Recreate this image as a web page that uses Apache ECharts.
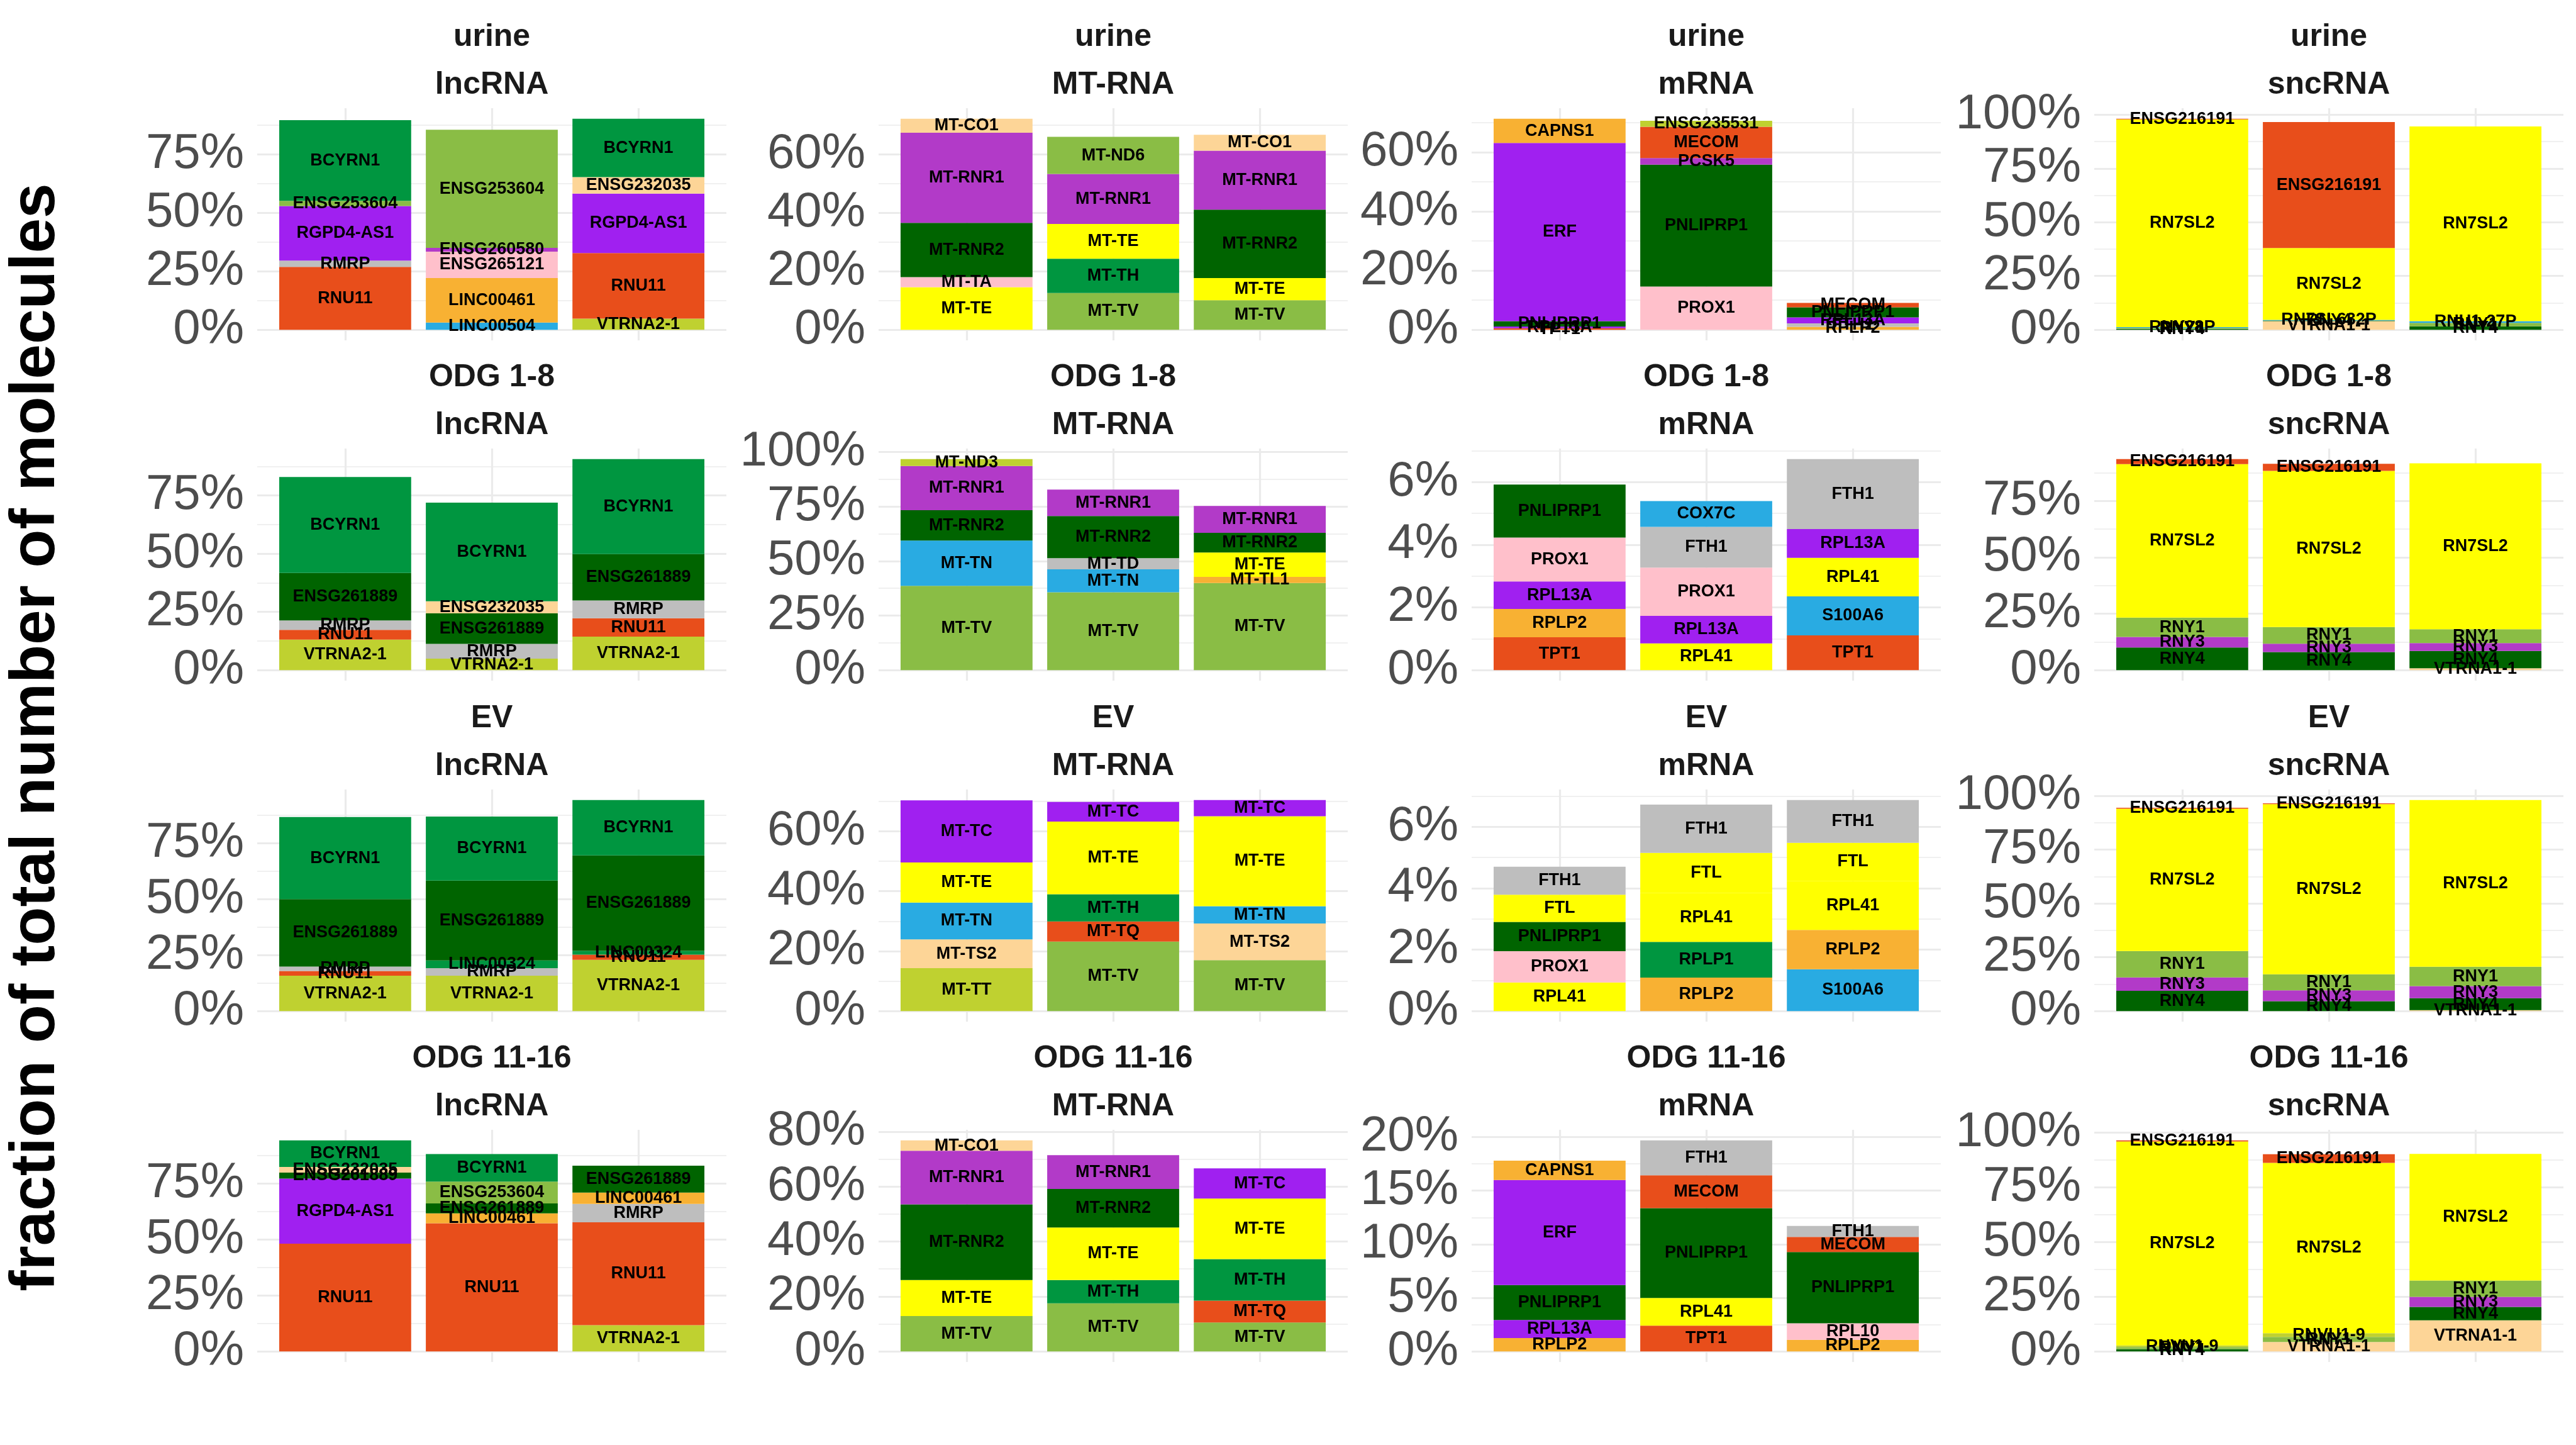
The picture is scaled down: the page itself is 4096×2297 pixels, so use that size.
<!DOCTYPE html>
<html><head><meta charset="utf-8">
<script src="https://cdn.jsdelivr.net/npm/echarts@6/dist/echarts.min.js"></script>
<style>html,body{margin:0;padding:0;background:#fff}#c{width:4096px;height:2297px}</style>
</head><body><div id="c"></div>
<script>
// ---------- DATA ----------
const rowNames = ['urine', 'ODG 1-8', 'EV', 'ODG 11-16'];
const typeNames = ['lncRNA', 'MT-RNA', 'mRNA', 'sncRNA'];
const barPositions = [1, 2, 3];
const barCategories = ['1', '2', '3'];

// urine
const urine_lncRNA_genes = [['RNU11','RMRP','RGPD4-AS1','ENSG253604','BCYRN1'],['LINC00504','LINC00461','ENSG265121','ENSG260580','ENSG253604'],['VTRNA2-1','RNU11','RGPD4-AS1','ENSG232035','BCYRN1']];
const urine_lncRNA_values = [[26.9,2.7,23.3,2.2,34.5],[3.1,19.0,11.3,1.6,50.5],[4.8,28.0,25.4,7.1,24.9]];
const urine_MTRNA_genes = [['MT-TE','MT-TA','MT-RNR2','MT-RNR1','MT-CO1'],['MT-TV','MT-TH','MT-TE','MT-RNR1','MT-ND6'],['MT-TV','MT-TE','MT-RNR2','MT-RNR1','MT-CO1']];
const urine_MTRNA_values = [[14.6,3.4,18.6,30.8,4.8],[12.6,11.7,11.9,17.1,12.7],[10.1,7.6,23.4,20.2,5.4]];
const urine_mRNA_genes = [['TPT1','RPL13A','PNLIPRP1','ERF','CAPNS1'],['PROX1','PNLIPRP1','PCSK5','MECOM','ENSG235531'],['RPLP2','FTH1','RPL13A','PNLIPRP1','MECOM']];
const urine_mRNA_values = [[0.5,0.6,1.8,60.2,8.2],[14.6,41.2,2.2,10.6,2.0],[1.0,1.2,2.0,3.4,1.5]];
const urine_sncRNA_genes = [['RNY4','RNY1','RNY28P','RN7SL2','ENSG216191'],['VTRNA1-1','RNY4','RN7SL632P','RN7SL2','ENSG216191'],['RNY4','RNY1','RNU1-27P','RN7SL2']];
const urine_sncRNA_values = [[0.4,0.5,0.3,96.6,0.3],[4.0,0.3,0.3,33.4,58.6],[1.6,1.6,0.8,90.5]];

// ODG 1-8
const odg18_lncRNA_genes = [['VTRNA2-1','RNU11','RMRP','ENSG261889','BCYRN1'],['VTRNA2-1','RMRP','ENSG261889','ENSG232035','BCYRN1'],['VTRNA2-1','RNU11','RMRP','ENSG261889','BCYRN1']];
const odg18_lncRNA_values = [[13.1,4.2,4.0,20.4,41.2],[4.9,6.4,13.1,5.2,42.3],[14.4,7.9,7.6,19.9,40.8]];
const odg18_MTRNA_genes = [['MT-TV','MT-TN','MT-RNR2','MT-RNR1','MT-ND3'],['MT-TV','MT-TN','MT-TD','MT-RNR2','MT-RNR1'],['MT-TV','MT-TL1','MT-TE','MT-RNR2','MT-RNR1']];
const odg18_MTRNA_values = [[38.6,20.8,13.9,20.2,3.2],[35.7,10.5,5.1,19.3,12.1],[39.9,2.8,11.2,9.0,12.3]];
const odg18_mRNA_genes = [['TPT1','RPLP2','RPL13A','PROX1','PNLIPRP1'],['RPL41','RPL13A','PROX1','FTH1','COX7C'],['TPT1','S100A6','RPL41','RPL13A','FTH1']];
const odg18_mRNA_values = [[1.05,0.90,0.88,1.40,1.69],[0.85,0.88,1.54,1.30,0.82],[1.11,1.24,1.23,0.92,2.23]];
const odg18_sncRNA_genes = [['RNY4','RNY3','RNY1','RN7SL2','ENSG216191'],['RNY4','RNY3','RNY1','RN7SL2','ENSG216191'],['VTRNA1-1','RNY4','RNY3','RNY1','RN7SL2']];
const odg18_sncRNA_values = [[10.0,4.7,8.6,68.0,2.2],[8.0,3.7,7.4,69.2,3.1],[0.8,7.7,3.5,6.1,73.5]];

// EV
const ev_lncRNA_genes = [['VTRNA2-1','RNU11','RMRP','ENSG261889','BCYRN1'],['VTRNA2-1','RMRP','LINC00324','ENSG261889','BCYRN1'],['VTRNA2-1','RNU11','LINC00324','ENSG261889','BCYRN1']];
const ev_lncRNA_values = [[15.8,2.1,2.0,30.1,36.7],[15.8,3.4,3.4,35.7,28.6],[22.9,2.3,1.7,42.7,24.7]];
const ev_MTRNA_genes = [['MT-TT','MT-TS2','MT-TN','MT-TE','MT-TC'],['MT-TV','MT-TQ','MT-TH','MT-TE','MT-TC'],['MT-TV','MT-TS2','MT-TN','MT-TE','MT-TC']];
const ev_MTRNA_values = [[14.3,9.6,12.3,13.4,20.7],[23.2,6.7,9.1,24.2,6.6],[17.0,12.2,5.8,30.0,5.4]];
const ev_mRNA_genes = [['RPL41','PROX1','PNLIPRP1','FTL','FTH1'],['RPLP2','RPLP1','RPL41','FTL','FTH1'],['S100A6','RPLP2','RPL41','FTL','FTH1']];
const ev_mRNA_values = [[0.93,1.02,0.95,0.89,0.91],[1.09,1.16,1.60,1.30,1.57],[1.36,1.28,1.60,1.24,1.39]];
const ev_sncRNA_genes = [['RNY4','RNY3','RNY1','RN7SL2','ENSG216191'],['RNY4','RNY3','RNY1','RN7SL2','ENSG216191'],['VTRNA1-1','RNY4','RNY3','RNY1','RN7SL2']];
const ev_sncRNA_values = [[9.4,6.2,12.3,66.1,0.4],[4.6,5.0,7.5,79.0,0.4],[0.4,5.6,5.6,9.0,77.4]];

// ODG 11-16
const odg1116_lncRNA_genes = [['RNU11','RGPD4-AS1','ENSG261889','ENSG232035','BCYRN1'],['RNU11','LINC00461','ENSG261889','ENSG253604','BCYRN1'],['VTRNA2-1','RNU11','RMRP','LINC00461','ENSG261889']];
const odg1116_lncRNA_values = [[48.1,29.1,2.7,2.5,11.9],[57.3,4.4,4.4,9.8,12.3],[11.7,46.0,8.2,5.1,12.0]];
const odg1116_MTRNA_genes = [['MT-TV','MT-TE','MT-RNR2','MT-RNR1','MT-CO1'],['MT-TV','MT-TH','MT-TE','MT-RNR2','MT-RNR1'],['MT-TV','MT-TQ','MT-TH','MT-TE','MT-TC']];
const odg1116_MTRNA_values = [[12.9,13.1,27.5,19.5,3.8],[17.5,8.5,19.1,14.0,12.3],[10.5,8.0,15.1,22.0,11.0]];
const odg1116_mRNA_genes = [['RPLP2','RPL13A','PNLIPRP1','ERF','CAPNS1'],['TPT1','RPL41','PNLIPRP1','MECOM','FTH1'],['RPLP2','RPL10','PNLIPRP1','MECOM','FTH1']];
const odg1116_mRNA_values = [[1.24,1.69,3.26,9.81,1.80],[2.41,2.58,8.37,3.07,3.26],[1.09,1.53,6.66,1.40,1.03]];
const odg1116_sncRNA_genes = [['RNY4','RNY1','RNVU1-9','RN7SL2','ENSG216191'],['VTRNA1-1','RNY1','RNVU1-9','RN7SL2','ENSG216191'],['VTRNA1-1','RNY4','RNY3','RNY1','RN7SL2']];
const odg1116_sncRNA_values = [[1.0,1.0,0.7,93.2,0.5],[4.3,2.3,1.7,77.8,4.0],[14.2,6.1,4.6,7.5,57.8]];

// y tick labels (percent) per row, per type
const urine_ticks = [[0,25,50,75],[0,20,40,60],[0,20,40,60],[0,25,50,75,100]];
const odg18_ticks = [[0,25,50,75],[0,25,50,75,100],[0,2,4,6],[0,25,50,75]];
const ev_ticks = [[0,25,50,75],[0,20,40,60],[0,2,4,6],[0,25,50,75,100]];
const odg1116_ticks = [[0,25,50,75],[0,20,40,60,80],[0,5,10,15,20],[0,25,50,75,100]];

const yTitle = 'fraction of total number of molecules';

// ---------- STYLE ----------
const C = {
  dkgreen:'#006400', green:'#009640', ltgreen:'#8ABD45', ygreen:'#BFD130',
  purple:'#A020F0', orchid:'#B23AC8', red:'#E84E1B', orange:'#F8B133',
  peach:'#FDD597', pink:'#FFC0CB', grey:'#BEBEBE', blue:'#29ABE2', yellow:'#FFFF00'
};
const geneColors = {
  'MT-RNR2':C.dkgreen,'PNLIPRP1':C.dkgreen,'ENSG261889':C.dkgreen,'RNY4':C.dkgreen,
  'BCYRN1':C.green,'MT-TH':C.green,'RPLP1':C.green,'LINC00324':C.green,
  'ENSG253604':C.ltgreen,'MT-TV':C.ltgreen,'MT-ND6':C.ltgreen,'RNY1':C.ltgreen,
  'VTRNA2-1':C.ygreen,'ENSG235531':C.ygreen,'MT-ND3':C.ygreen,'MT-TT':C.ygreen,'RNVU1-9':C.ygreen,
  'RGPD4-AS1':C.purple,'ERF':C.purple,'RPL13A':C.purple,'MT-TC':C.purple,
  'MT-RNR1':C.orchid,'PCSK5':C.orchid,'RNY3':C.orchid,'ENSG260580':C.orchid,
  'RNU11':C.red,'MECOM':C.red,'TPT1':C.red,'MT-TQ':C.red,'ENSG216191':C.red,
  'LINC00461':C.orange,'CAPNS1':C.orange,'RPLP2':C.orange,'MT-TL1':C.orange,
  'ENSG232035':C.peach,'MT-CO1':C.peach,'MT-TS2':C.peach,'VTRNA1-1':C.peach,
  'ENSG265121':C.pink,'MT-TA':C.pink,'PROX1':C.pink,'RPL10':C.pink,
  'RMRP':C.grey,'FTH1':C.grey,'MT-TD':C.grey,
  'LINC00504':C.blue,'MT-TN':C.blue,'COX7C':C.blue,'S100A6':C.blue,'RNY28P':C.blue,'RN7SL632P':C.blue,'RNU1-27P':C.blue,
  'MT-TE':C.yellow,'RN7SL2':C.yellow,'RPL41':C.yellow,'FTL':C.yellow
};

const FONT = '"Liberation Sans", Arial, sans-serif';
const colLeft = [409, 1397, 2340, 3330];
const rowTop = [172, 713, 1255, 1796];
const panelW = 746, panelH = 369;
const unitW = panelW / 3.2;          // one discrete x unit (ggplot: 0.6 padding each side)
const gridColor = '#EBEBEB';

const panelData = [
  [urine_lncRNA_genes, urine_lncRNA_values, urine_ticks[0]],
  [urine_MTRNA_genes, urine_MTRNA_values, urine_ticks[1]],
  [urine_mRNA_genes, urine_mRNA_values, urine_ticks[2]],
  [urine_sncRNA_genes, urine_sncRNA_values, urine_ticks[3]],
  [odg18_lncRNA_genes, odg18_lncRNA_values, odg18_ticks[0]],
  [odg18_MTRNA_genes, odg18_MTRNA_values, odg18_ticks[1]],
  [odg18_mRNA_genes, odg18_mRNA_values, odg18_ticks[2]],
  [odg18_sncRNA_genes, odg18_sncRNA_values, odg18_ticks[3]],
  [ev_lncRNA_genes, ev_lncRNA_values, ev_ticks[0]],
  [ev_MTRNA_genes, ev_MTRNA_values, ev_ticks[1]],
  [ev_mRNA_genes, ev_mRNA_values, ev_ticks[2]],
  [ev_sncRNA_genes, ev_sncRNA_values, ev_ticks[3]],
  [odg1116_lncRNA_genes, odg1116_lncRNA_values, odg1116_ticks[0]],
  [odg1116_MTRNA_genes, odg1116_MTRNA_values, odg1116_ticks[1]],
  [odg1116_mRNA_genes, odg1116_mRNA_values, odg1116_ticks[2]],
  [odg1116_sncRNA_genes, odg1116_sncRNA_values, odg1116_ticks[3]]
];

const grid = [], xAxis = [], yAxis = [], series = [], graphic = [];

panelData.forEach(([genes, values, ticks], i) => {
  const r = Math.floor(i / 4), c = i % 4;
  const totals = values.map(v => v.reduce((a, b) => a + b, 0));
  const M = Math.max(...totals);
  const ymin = -0.05 * M, ymax = 1.05 * M;
  const step = ticks[1] - ticks[0];
  const minors = [];
  for (let v = step / 2; v <= ymax; v += step) minors.push(+v.toFixed(4));

  // outer grid: panel background grid lines + y tick labels
  const gOuter = grid.length;
  grid.push({left: colLeft[c], top: rowTop[r], width: panelW, height: panelH});
  // inner grid: bars on a category axis (bands 0.5..3.5 inside 0.4..3.6)
  const gInner = grid.length;
  grid.push({left: colLeft[c] + 0.1 * unitW, top: rowTop[r], width: 3 * unitW, height: panelH});

  xAxis.push({
    type: 'value', gridIndex: gOuter, min: 0.4, max: 3.6,
    axisLine: {show: false}, axisLabel: {show: false},
    axisTick: {show: false, customValues: barPositions},
    splitLine: {show: true, lineStyle: {color: gridColor, width: 3.2}}
  });
  const xInner = xAxis.length;
  xAxis.push({
    type: 'category', gridIndex: gInner, data: barCategories, boundaryGap: true,
    axisLine: {show: false}, axisLabel: {show: false}, axisTick: {show: false}, splitLine: {show: false}
  });

  yAxis.push({
    type: 'value', gridIndex: gOuter, min: ymin, max: ymax, position: 'left',
    axisLine: {show: false},
    axisTick: {show: false, customValues: ticks},
    axisLabel: {customValues: ticks, formatter: v => Math.round(v) + '%', fontSize: 78,
      color: '#4D4D4D', fontFamily: FONT, margin: 21},
    splitLine: {show: true, lineStyle: {color: gridColor, width: 3.2}}
  });
  yAxis.push({
    type: 'value', gridIndex: gOuter, min: ymin, max: ymax, position: 'left',
    axisLine: {show: false}, axisLabel: {show: false},
    axisTick: {show: false, customValues: minors},
    splitLine: {show: true, lineStyle: {color: gridColor, width: 1.6}}
  });
  const yInner = yAxis.length;
  yAxis.push({
    type: 'value', gridIndex: gInner, min: ymin, max: ymax, position: 'left', show: false,
    axisLine: {show: false}, axisLabel: {show: false}, axisTick: {show: false}, splitLine: {show: false}
  });

  const nLayers = Math.max(...genes.map(g => g.length));
  for (let k = 0; k < nLayers; k++) {
    series.push({
      type: 'bar', xAxisIndex: xInner, yAxisIndex: yInner, stack: 'p' + i, barWidth: '90%',
      label: {show: true, position: 'inside', formatter: '{b}', color: '#000',
        fontSize: 27, fontWeight: 'bold', fontFamily: FONT},
      data: genes.map((g, j) => k < g.length
        ? {name: g[k], value: values[j][k], itemStyle: {color: geneColors[g[k]] || '#999'}}
        : {name: '', value: '-'})
    });
  }

  const cx = colLeft[c] + panelW / 2;
  graphic.push({type: 'text', x: cx, y: rowTop[r] - 113,
    style: {text: rowNames[r], fontSize: 50, fontWeight: 'bold', fontFamily: FONT, fill: '#1A1A1A', align: 'center', verticalAlign: 'middle'}});
  graphic.push({type: 'text', x: cx, y: rowTop[r] - 37,
    style: {text: typeNames[c], fontSize: 50, fontWeight: 'bold', fontFamily: FONT, fill: '#1A1A1A', align: 'center', verticalAlign: 'middle'}});
});

graphic.push({type: 'text', x: 58, y: 1172, rotation: Math.PI / 2,
  style: {text: yTitle, fontSize: 100, fontWeight: 'bold', fontFamily: FONT, fill: '#000', align: 'center', verticalAlign: 'middle'}});

const chart = echarts.init(document.getElementById('c'), null, {renderer: 'canvas'});
chart.setOption({
  backgroundColor: '#fff',
  animation: false,
  grid, xAxis, yAxis, series, graphic
});
</script>
</body></html>
